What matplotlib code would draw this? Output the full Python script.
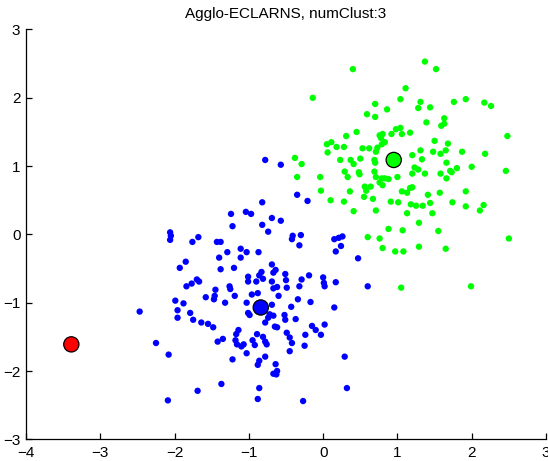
import matplotlib
matplotlib.use("Agg")
import matplotlib.pyplot as plt

plt.rcParams['font.family'] = ['Liberation Sans', 'DejaVu Sans']

title = "Agglo-ECLARNS, numClust:3"
xticks = [-4, -3, -2, -1, 0, 1, 2, 3]
yticks = [-3, -2, -1, 0, 1, 2, 3]

green_x = [0.40, -0.14, 1.11, 1.04, 0.70, 0.86, 0.59, 0.70, 0.98, 1.04, 0.45, 0.31, 0.76, 0.80, 0.78,
           0.92, 1.06, 0.11, 0.05, 0.18, 0.28, 0.83, 0.79, 0.53, 0.62, 0.73, 0.71, 0.06, -0.38, -0.29,
           0.23, 0.37, 0.41, 0.50, 0.69, 0.70, 0.29, 0.48, 0.69, 1.37, 1.52, 1.31, 1.28, 1.44, 1.76,
           1.92, 2.17, 2.26, 1.63, 1.63, 1.59, 1.39, 1.17, 2.48, 1.50, 1.68, 1.31, 1.33, 1.20, 1.48,
           1.58, 1.65, 1.87, 2.18, 1.66, 1.23, 1.28, 1.80, 1.71, 1.73, 2.00, 2.46, 1.20, 1.37, 1.58,
           -0.35, -0.04, 0.33, 0.71, 0.79, 0.83, 0.76, 0.80, 0.88, 1.00, 0.56, 0.64, 0.58, -0.03, 0.36,
           1.06, 0.10, 0.28, 0.55, 0.67, 0.91, 1.01, 0.41, 0.71, 0.88, 1.07, 0.60, 0.76, 0.80, 0.97,
           1.08, 1.05, 1.66, 1.13, 1.17, 1.20, 1.41, 1.57, 1.92, 1.18, 1.25, 1.34, 1.44, 1.74, 1.92,
           2.16, 2.11, 1.13, 1.47, 1.29, 1.55, 2.50, 1.29, 1.65, 1.99, 0.49]
green_y = [2.42, 2.00, 2.14, 1.98, 1.91, 1.83, 1.76, 1.72, 1.54, 1.56, 1.50, 1.44, 1.45, 1.47, 1.41,
           1.47, 1.47, 1.35, 1.32, 1.28, 1.28, 1.35, 1.32, 1.26, 1.26, 1.27, 1.21, 1.20, 1.12, 1.03,
           1.09, 1.09, 1.03, 1.11, 1.09, 1.05, 0.92, 0.91, 0.92, 2.53, 2.42, 1.94, 1.85, 1.86, 1.94,
           1.98, 1.93, 1.88, 1.70, 1.62, 1.59, 1.64, 1.49, 1.44, 1.37, 1.33, 1.23, 1.10, 1.16, 1.21,
           1.18, 1.23, 1.21, 1.18, 1.05, 0.98, 0.95, 0.97, 0.93, 0.91, 0.99, 0.93, 0.89, 0.89, 0.89,
           0.84, 0.84, 0.84, 0.84, 0.82, 0.82, 0.76, 0.72, 0.81, 0.84, 0.70, 0.70, 0.64, 0.64, 0.63,
           0.63, 0.50, 0.48, 0.55, 0.52, 0.48, 0.47, 0.34, 0.35, 0.08, 0.06, -0.04, -0.06, -0.20, -0.25,
           -0.25, -0.78, 0.82, 0.61, 0.68, 0.69, 0.58, 0.61, 0.63, 0.44, 0.42, 0.42, 0.46, 0.47, 0.41,
           0.43, 0.35, 0.31, 0.31, 0.17, 0.05, -0.06, -0.18, -0.21, -0.76, 0.88]

blue_x = [-1.24, -1.04, -0.97, -1.22, -2.06, -2.05, -2.06, -1.68, -1.76, -1.43, -1.38, -1.11, -1.03,
          -1.29, -1.40, -1.11, -1.85, -1.93, -1.38, -1.20, -1.70, -1.01, -0.78, -0.57, -0.82, -0.35,
          -0.21, -0.69, -0.57, -0.82, -0.74, -0.42, -0.41, -0.30, -0.32, 0.15, 0.21, 0.26, 0.24, 0.17,
          0.47, -0.87, -0.69, -0.83, -0.86, -0.67, -0.64, -0.51, -0.29, -0.19, 0.00, -0.50, 0.01, 0.02,
          0.17, 0.60, -0.49, -0.32, -1.84, -1.77, -1.67, -1.45, -1.46, -1.47, -1.26, -1.25, -1.58,
          -1.19, -1.01, -1.99, -1.88, -1.32, -1.03, -2.47, -1.96, -1.96, -1.79, -1.75, -1.01, -1.64,
          -1.55, -1.48, -1.14, -1.17, -1.42, -1.35, -1.18, -1.16, -1.10, -1.07, -1.03, -2.25, -2.08,
          -1.22, -1.37, -1.69, -2.09, -0.90, -0.81, -0.69, -0.67, -0.62, -0.96, -0.88, -0.60, -0.34,
          -0.17, -0.69, -0.43, 0.15, -0.99, -0.72, -0.67, -0.74, -0.52, -0.51, -0.37, -0.78, -0.65,
          -0.62, -0.15, -0.10, 0.02, -0.03, -0.24, -0.49, -0.45, -0.42, -0.89, -0.81, -0.78, -0.76,
          -0.95, -0.92, -0.25, -0.45, -0.78, -0.86, -0.88, -0.64, 0.29, -0.62, -0.67, -0.63, -0.86,
          0.32, -0.88, -0.27]
blue_y = [0.30, 0.33, 0.30, 0.12, 0.03, -0.02, -0.08, -0.04, -0.11, -0.11, -0.11, -0.21, -0.26,
          -0.26, -0.34, -0.34, -0.40, -0.49, -0.51, -0.49, -0.66, -0.62, 1.09, 1.02, 0.47, 0.58,
          0.49, 0.24, 0.20, 0.14, 0.04, -0.07, -0.02, -0.01, -0.16, -0.07, -0.05, -0.03, -0.17, -0.25,
          -0.35, -0.26, -0.44, -0.55, -0.60, -0.56, -0.52, -0.58, -0.66, -0.60, -0.63, -0.67, -0.71,
          -0.76, -0.70, -0.76, -0.78, -0.76, -0.76, -0.72, -0.69, -0.81, -0.90, -0.95, -0.76, -0.80,
          -0.92, -0.90, -0.69, -0.97, -1.01, -1.00, -1.00, -1.13, -1.11, -1.22, -1.15, -1.25, -1.15,
          -1.29, -1.31, -1.36, -1.40, -1.46, -1.57, -1.53, -1.55, -1.61, -1.64, -1.61, -1.74, -1.59,
          -1.76, -1.83, -2.19, -2.29, -2.43, -0.69, -0.65, -0.69, -0.79, -0.77, -0.88, -0.86, -0.90,
          -0.95, -0.99, -1.03, -1.06, -1.07, -1.18, -1.17, -1.19, -1.22, -1.18, -1.25, -1.24, -1.29,
          -1.35, -1.36, -1.34, -1.40, -1.32, -1.47, -1.47, -1.44, -1.51, -1.59, -1.46, -1.50, -1.57,
          -1.61, -1.55, -1.62, -1.63, -1.71, -1.79, -1.85, -1.91, -1.90, -1.79, -2.00, -2.04, -2.05,
          -2.25, -2.25, -2.41, -2.44]

centers_x = [0.95, -0.84, -3.39]
centers_y = [1.09, -1.07, -1.61]
center_colors = ['#00ff00', '#0000ff', '#ff0000']

fig = plt.figure(figsize=(5.48, 4.61), dpi=100)
ax = fig.add_axes([26 / 548, 21.7 / 461, 520 / 548, 409.8 / 461])

ax.scatter(green_x, green_y, s=21, c='#00ff00', edgecolors='none', zorder=2)
ax.scatter(blue_x, blue_y, s=21, c='#0000ff', edgecolors='none', zorder=2)
ax.scatter(centers_x, centers_y, s=120, c=center_colors, edgecolors='black',
           linewidths=0.9, zorder=3)

ax.set_xlim(-4, 3)
ax.set_ylim(-3, 3)
ax.set_xticks(xticks)
ax.set_yticks(yticks)
ax.spines['top'].set_visible(False)
ax.spines['right'].set_visible(False)
for s in ['left', 'bottom']:
    ax.spines[s].set_linewidth(0.9)
ax.tick_params(direction='in', length=4, width=0.9, labelsize=11, colors='black')
ax.tick_params(axis='x', pad=5)
ax.tick_params(axis='y', pad=4)
ax.set_title(title, fontsize=11, pad=8.5)

fig.savefig('out.png', dpi=100)
